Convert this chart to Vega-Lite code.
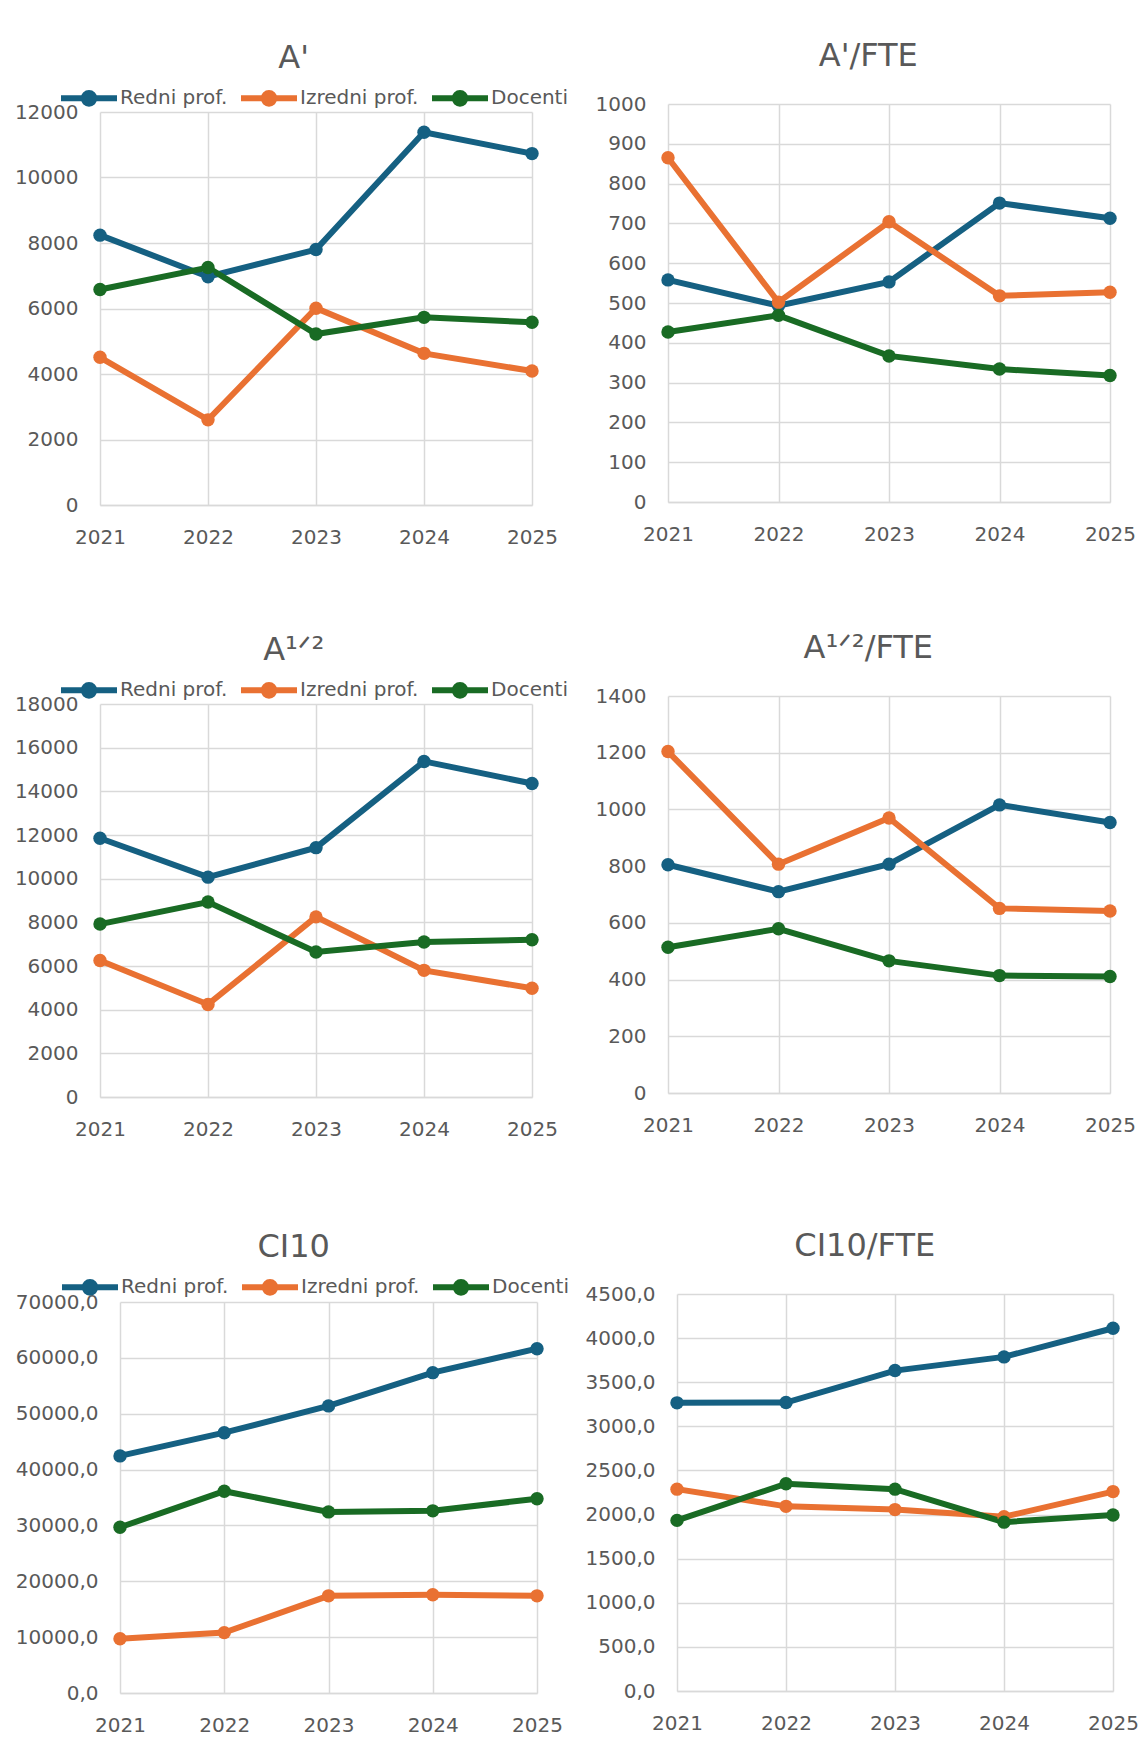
{
  "$schema": "https://vega.github.io/schema/vega-lite/v6.json",
  "background": "white",
  "padding": {"left": 14, "top": 40, "right": 5, "bottom": 5},
  "datasets": {
    "d": [
      {"p": "A1", "year": 2021, "s": "Redni prof.", "v": 8240},
      {"p": "A1", "year": 2022, "s": "Redni prof.", "v": 6970},
      {"p": "A1", "year": 2023, "s": "Redni prof.", "v": 7800},
      {"p": "A1", "year": 2024, "s": "Redni prof.", "v": 11380},
      {"p": "A1", "year": 2025, "s": "Redni prof.", "v": 10730},
      {"p": "A1", "year": 2021, "s": "Izredni prof.", "v": 4510},
      {"p": "A1", "year": 2022, "s": "Izredni prof.", "v": 2600},
      {"p": "A1", "year": 2023, "s": "Izredni prof.", "v": 6010},
      {"p": "A1", "year": 2024, "s": "Izredni prof.", "v": 4630},
      {"p": "A1", "year": 2025, "s": "Izredni prof.", "v": 4090},
      {"p": "A1", "year": 2021, "s": "Docenti", "v": 6580},
      {"p": "A1", "year": 2022, "s": "Docenti", "v": 7250},
      {"p": "A1", "year": 2023, "s": "Docenti", "v": 5220},
      {"p": "A1", "year": 2024, "s": "Docenti", "v": 5730},
      {"p": "A1", "year": 2025, "s": "Docenti", "v": 5580},
      {"p": "A1F", "year": 2021, "s": "Redni prof.", "v": 558},
      {"p": "A1F", "year": 2022, "s": "Redni prof.", "v": 493},
      {"p": "A1F", "year": 2023, "s": "Redni prof.", "v": 553},
      {"p": "A1F", "year": 2024, "s": "Redni prof.", "v": 751},
      {"p": "A1F", "year": 2025, "s": "Redni prof.", "v": 713},
      {"p": "A1F", "year": 2021, "s": "Izredni prof.", "v": 865},
      {"p": "A1F", "year": 2022, "s": "Izredni prof.", "v": 502},
      {"p": "A1F", "year": 2023, "s": "Izredni prof.", "v": 704},
      {"p": "A1F", "year": 2024, "s": "Izredni prof.", "v": 518},
      {"p": "A1F", "year": 2025, "s": "Izredni prof.", "v": 527},
      {"p": "A1F", "year": 2021, "s": "Docenti", "v": 427},
      {"p": "A1F", "year": 2022, "s": "Docenti", "v": 469},
      {"p": "A1F", "year": 2023, "s": "Docenti", "v": 367},
      {"p": "A1F", "year": 2024, "s": "Docenti", "v": 334},
      {"p": "A1F", "year": 2025, "s": "Docenti", "v": 318},
      {"p": "A2", "year": 2021, "s": "Redni prof.", "v": 11850},
      {"p": "A2", "year": 2022, "s": "Redni prof.", "v": 10070},
      {"p": "A2", "year": 2023, "s": "Redni prof.", "v": 11420},
      {"p": "A2", "year": 2024, "s": "Redni prof.", "v": 15370},
      {"p": "A2", "year": 2025, "s": "Redni prof.", "v": 14360},
      {"p": "A2", "year": 2021, "s": "Izredni prof.", "v": 6250},
      {"p": "A2", "year": 2022, "s": "Izredni prof.", "v": 4240},
      {"p": "A2", "year": 2023, "s": "Izredni prof.", "v": 8250},
      {"p": "A2", "year": 2024, "s": "Izredni prof.", "v": 5800},
      {"p": "A2", "year": 2025, "s": "Izredni prof.", "v": 4980},
      {"p": "A2", "year": 2021, "s": "Docenti", "v": 7920},
      {"p": "A2", "year": 2022, "s": "Docenti", "v": 8930},
      {"p": "A2", "year": 2023, "s": "Docenti", "v": 6640},
      {"p": "A2", "year": 2024, "s": "Docenti", "v": 7100},
      {"p": "A2", "year": 2025, "s": "Docenti", "v": 7200},
      {"p": "A2F", "year": 2021, "s": "Redni prof.", "v": 805},
      {"p": "A2F", "year": 2022, "s": "Redni prof.", "v": 710},
      {"p": "A2F", "year": 2023, "s": "Redni prof.", "v": 807},
      {"p": "A2F", "year": 2024, "s": "Redni prof.", "v": 1016},
      {"p": "A2F", "year": 2025, "s": "Redni prof.", "v": 954},
      {"p": "A2F", "year": 2021, "s": "Izredni prof.", "v": 1204},
      {"p": "A2F", "year": 2022, "s": "Izredni prof.", "v": 807},
      {"p": "A2F", "year": 2023, "s": "Izredni prof.", "v": 970},
      {"p": "A2F", "year": 2024, "s": "Izredni prof.", "v": 651},
      {"p": "A2F", "year": 2025, "s": "Izredni prof.", "v": 642},
      {"p": "A2F", "year": 2021, "s": "Docenti", "v": 514},
      {"p": "A2F", "year": 2022, "s": "Docenti", "v": 579},
      {"p": "A2F", "year": 2023, "s": "Docenti", "v": 466},
      {"p": "A2F", "year": 2024, "s": "Docenti", "v": 414},
      {"p": "A2F", "year": 2025, "s": "Docenti", "v": 411},
      {"p": "CI", "year": 2021, "s": "Redni prof.", "v": 42450},
      {"p": "CI", "year": 2022, "s": "Redni prof.", "v": 46600},
      {"p": "CI", "year": 2023, "s": "Redni prof.", "v": 51400},
      {"p": "CI", "year": 2024, "s": "Redni prof.", "v": 57350},
      {"p": "CI", "year": 2025, "s": "Redni prof.", "v": 61640},
      {"p": "CI", "year": 2021, "s": "Izredni prof.", "v": 9720},
      {"p": "CI", "year": 2022, "s": "Izredni prof.", "v": 10810},
      {"p": "CI", "year": 2023, "s": "Izredni prof.", "v": 17390},
      {"p": "CI", "year": 2024, "s": "Izredni prof.", "v": 17580},
      {"p": "CI", "year": 2025, "s": "Izredni prof.", "v": 17390},
      {"p": "CI", "year": 2021, "s": "Docenti", "v": 29670},
      {"p": "CI", "year": 2022, "s": "Docenti", "v": 36130},
      {"p": "CI", "year": 2023, "s": "Docenti", "v": 32420},
      {"p": "CI", "year": 2024, "s": "Docenti", "v": 32610},
      {"p": "CI", "year": 2025, "s": "Docenti", "v": 34780},
      {"p": "CIF", "year": 2021, "s": "Redni prof.", "v": 3266},
      {"p": "CIF", "year": 2022, "s": "Redni prof.", "v": 3270},
      {"p": "CIF", "year": 2023, "s": "Redni prof.", "v": 3632},
      {"p": "CIF", "year": 2024, "s": "Redni prof.", "v": 3787},
      {"p": "CIF", "year": 2025, "s": "Redni prof.", "v": 4112},
      {"p": "CIF", "year": 2021, "s": "Izredni prof.", "v": 2288},
      {"p": "CIF", "year": 2022, "s": "Izredni prof.", "v": 2093},
      {"p": "CIF", "year": 2023, "s": "Izredni prof.", "v": 2056},
      {"p": "CIF", "year": 2024, "s": "Izredni prof.", "v": 1975},
      {"p": "CIF", "year": 2025, "s": "Izredni prof.", "v": 2260},
      {"p": "CIF", "year": 2021, "s": "Docenti", "v": 1934},
      {"p": "CIF", "year": 2022, "s": "Docenti", "v": 2349},
      {"p": "CIF", "year": 2023, "s": "Docenti", "v": 2288},
      {"p": "CIF", "year": 2024, "s": "Docenti", "v": 1914},
      {"p": "CIF", "year": 2025, "s": "Docenti", "v": 1995}
    ]
  },
  "config": {
    "view": {"stroke": null},
    "font": "DejaVu Sans",
    "axis": {
      "labelFont": "DejaVu Sans",
      "labelFontSize": 20,
      "labelColor": "#595959",
      "ticks": false,
      "domain": false,
      "grid": true,
      "gridColor": "#d9d9d9",
      "gridWidth": 1.5,
      "title": null
    },
    "axisX": {"domain": true, "domainColor": "#d9d9d9", "domainWidth": 1.5, "labelPadding": 22, "labelFlush": false, "labelOverlap": false},
    "axisY": {"labelPadding": 22},
    "title": {"font": "DejaVu Sans", "fontSize": 32, "fontWeight": "normal", "color": "#595959", "anchor": "middle", "frame": "bounds"},
    "legend": {
      "orient": "none",
      "direction": "horizontal",
      "title": null,
      "symbolType": "M-1,0L1,0M-0.19,0A0.19,0.19,0,1,1,0.19,0A0.19,0.19,0,1,1,-0.19,0Z",
      "symbolSize": 3136,
      "symbolStrokeWidth": 5,
      "labelFont": "DejaVu Sans",
      "labelFontSize": 20,
      "labelColor": "#595959",
      "labelOffset": 0,
      "columnPadding": 1
    },
    "line": {"strokeWidth": 6},
    "point": {"filled": true, "size": 180, "opacity": 1}
  },
  "align": "none",
  "spacing": 85,
  "resolve": {"scale": {"x": "independent", "y": "independent", "color": "independent"}, "legend": {"color": "independent"}},
  "vconcat": [
    {
      "align": "none",
      "spacing": 26,
      "resolve": {"scale": {"x": "independent", "y": "independent", "color": "independent"}, "legend": {"color": "independent"}},
      "hconcat": [
        {
          "width": 432, "height": 393,
          "title": {"text": "A'", "offset": -8, "dx": 2},
          "data": {"name": "d"},
          "transform": [{"filter": "datum.p === 'A1'"}],
          "encoding": {
            "x": {"field": "year", "type": "quantitative", "scale": {"domain": [2021, 2025], "nice": false, "zero": false}, "axis": {"values": [2021, 2022, 2023, 2024, 2025], "format": "d"}},
            "y": {"field": "v", "type": "quantitative", "scale": {"domain": [0, 12000], "nice": false}, "axis": {"values": [0, 2000, 4000, 6000, 8000, 10000, 12000], "format": "d"}},
            "color": {"field": "s", "type": "nominal", "sort": ["Redni prof.", "Izredni prof.", "Docenti"], "scale": {"domain": ["Redni prof.", "Izredni prof.", "Docenti"], "range": ["#156082", "#E97132", "#196B24"]}, "legend": {"legendX": -42, "legendY": -45}}
          },
          "layer": [
            {"mark": {"type": "line"}, "encoding": {}},
            {"mark": {"type": "point"}}
          ]
        },
        {
          "align": "none",
          "spacing": -82,
          "resolve": {"scale": {"x": "independent", "y": "independent", "color": "independent"}, "legend": {"color": "independent"}},
          "vconcat": [
            {"width": 10, "height": 10, "data": {"values": [{"k": 1}]}, "mark": {"type": "point", "opacity": 0, "size": 1}},
            {
              "width": 442, "height": 398,
              "title": {"text": "A'/FTE", "offset": 21, "dx": 3},
              "data": {"name": "d"},
              "transform": [{"filter": "datum.p === 'A1F'"}],
              "encoding": {
                "x": {"field": "year", "type": "quantitative", "scale": {"domain": [2021, 2025], "nice": false, "zero": false}, "axis": {"values": [2021, 2022, 2023, 2024, 2025], "format": "d"}},
                "y": {"field": "v", "type": "quantitative", "scale": {"domain": [0, 1000], "nice": false}, "axis": {"values": [0, 100, 200, 300, 400, 500, 600, 700, 800, 900, 1000], "format": "d"}},
                "color": {"field": "s", "type": "nominal", "scale": {"domain": ["Redni prof.", "Izredni prof.", "Docenti"], "range": ["#156082", "#E97132", "#196B24"]}, "legend": null}
              },
              "layer": [
                {"mark": {"type": "line"}, "encoding": {}},
                {"mark": {"type": "point"}}
              ]
            }
          ]
        }
      ]
    },
    {
      "align": "none",
      "spacing": 91,
      "resolve": {"scale": {"x": "independent", "y": "independent", "color": "independent"}, "legend": {"color": "independent"}},
      "vconcat": [
        {
          "align": "none",
          "spacing": 26,
          "resolve": {"scale": {"x": "independent", "y": "independent", "color": "independent"}, "legend": {"color": "independent"}},
          "hconcat": [
            {
              "width": 432, "height": 393,
              "title": {"text": "A¹ᐟ²", "offset": -8, "dx": 2},
              "data": {"name": "d"},
              "transform": [{"filter": "datum.p === 'A2'"}],
              "encoding": {
                "x": {"field": "year", "type": "quantitative", "scale": {"domain": [2021, 2025], "nice": false, "zero": false}, "axis": {"values": [2021, 2022, 2023, 2024, 2025], "format": "d"}},
                "y": {"field": "v", "type": "quantitative", "scale": {"domain": [0, 18000], "nice": false}, "axis": {"values": [0, 2000, 4000, 6000, 8000, 10000, 12000, 14000, 16000, 18000], "format": "d"}},
                "color": {"field": "s", "type": "nominal", "sort": ["Redni prof.", "Izredni prof.", "Docenti"], "scale": {"domain": ["Redni prof.", "Izredni prof.", "Docenti"], "range": ["#156082", "#E97132", "#196B24"]}, "legend": {"legendX": -42, "legendY": -45}}
              },
              "layer": [
                {"mark": {"type": "line"}, "encoding": {}},
                {"mark": {"type": "point"}}
              ]
            },
            {
              "align": "none",
              "spacing": -82,
              "resolve": {"scale": {"x": "independent", "y": "independent", "color": "independent"}, "legend": {"color": "independent"}},
              "vconcat": [
                {"width": 10, "height": 10, "data": {"values": [{"k": 1}]}, "mark": {"type": "point", "opacity": 0, "size": 1}},
                {
                  "width": 442, "height": 397,
                  "title": {"text": "A¹ᐟ²/FTE", "offset": 21, "dx": 3},
                  "data": {"name": "d"},
                  "transform": [{"filter": "datum.p === 'A2F'"}],
                  "encoding": {
                    "x": {"field": "year", "type": "quantitative", "scale": {"domain": [2021, 2025], "nice": false, "zero": false}, "axis": {"values": [2021, 2022, 2023, 2024, 2025], "format": "d"}},
                    "y": {"field": "v", "type": "quantitative", "scale": {"domain": [0, 1400], "nice": false}, "axis": {"values": [0, 200, 400, 600, 800, 1000, 1200, 1400], "format": "d"}},
                    "color": {"field": "s", "type": "nominal", "scale": {"domain": ["Redni prof.", "Izredni prof.", "Docenti"], "range": ["#156082", "#E97132", "#196B24"]}, "legend": null}
                  },
                  "layer": [
                    {"mark": {"type": "line"}, "encoding": {}},
                    {"mark": {"type": "point"}}
                  ]
                }
              ]
            }
          ]
        },
        {
          "align": "none",
          "spacing": -95,
          "resolve": {"scale": {"x": "independent", "y": "independent", "color": "independent"}, "legend": {"color": "independent"}},
          "hconcat": [
            {"width": 10, "height": 10, "data": {"values": [{"k": 1}]}, "mark": {"type": "point", "opacity": 0, "size": 1}},
            {
              "align": "none",
              "spacing": 15,
              "resolve": {"scale": {"x": "independent", "y": "independent", "color": "independent"}, "legend": {"color": "independent"}},
              "hconcat": [
                {
                  "width": 417, "height": 391,
                  "title": {"text": "CI10", "offset": -8, "dx": 1},
                  "data": {"name": "d"},
                  "transform": [{"filter": "datum.p === 'CI'"}],
                  "encoding": {
                    "x": {"field": "year", "type": "quantitative", "scale": {"domain": [2021, 2025], "nice": false, "zero": false}, "axis": {"values": [2021, 2022, 2023, 2024, 2025], "format": "d"}},
                    "y": {"field": "v", "type": "quantitative", "scale": {"domain": [0, 70000], "nice": false}, "axis": {"values": [0, 10000, 20000, 30000, 40000, 50000, 60000, 70000], "labelExpr": "replace(format(datum.value, '.1f'), '.', ',')"}},
                    "color": {"field": "s", "type": "nominal", "sort": ["Redni prof.", "Izredni prof.", "Docenti"], "scale": {"domain": ["Redni prof.", "Izredni prof.", "Docenti"], "range": ["#156082", "#E97132", "#196B24"]}, "legend": {"legendX": -61, "legendY": -46}}
                  },
                  "layer": [
                    {"mark": {"type": "line"}, "encoding": {}},
                    {"mark": {"type": "point"}}
                  ]
                },
                {
                  "align": "none",
                  "spacing": -82,
                  "resolve": {"scale": {"x": "independent", "y": "independent", "color": "independent"}, "legend": {"color": "independent"}},
                  "vconcat": [
                    {"width": 10, "height": 10, "data": {"values": [{"k": 1}]}, "mark": {"type": "point", "opacity": 0, "size": 1}},
                    {
                      "width": 436, "height": 397,
                      "title": {"text": "CI10/FTE", "offset": 21, "dx": 3},
                      "data": {"name": "d"},
                      "transform": [{"filter": "datum.p === 'CIF'"}],
                      "encoding": {
                        "x": {"field": "year", "type": "quantitative", "scale": {"domain": [2021, 2025], "nice": false, "zero": false}, "axis": {"values": [2021, 2022, 2023, 2024, 2025], "format": "d"}},
                        "y": {"field": "v", "type": "quantitative", "scale": {"domain": [0, 4500], "nice": false}, "axis": {"values": [0, 500, 1000, 1500, 2000, 2500, 3000, 3500, 4000, 4500], "labelExpr": "replace(format(datum.value, '.1f'), '.', ',')"}},
                        "color": {"field": "s", "type": "nominal", "scale": {"domain": ["Redni prof.", "Izredni prof.", "Docenti"], "range": ["#156082", "#E97132", "#196B24"]}, "legend": null}
                      },
                      "layer": [
                        {"mark": {"type": "line"}, "encoding": {}},
                        {"mark": {"type": "point"}}
                      ]
                    }
                  ]
                }
              ]
            }
          ]
        }
      ]
    }
  ]
}
